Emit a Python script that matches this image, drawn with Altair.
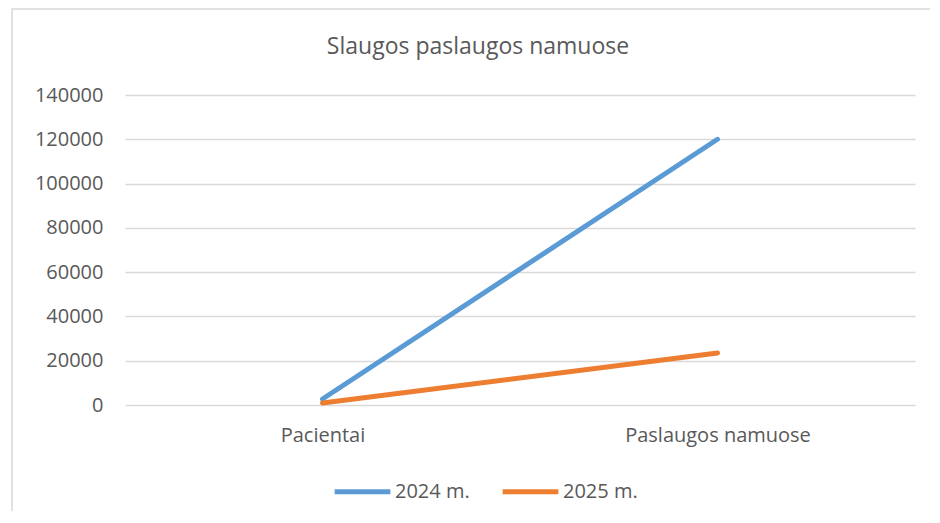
import altair as alt
import pandas as pd

categories = ["Pacientai", "Paslaugos namuose"]
series_names = ["2024 m.", "2025 m."]
values_2024 = [2700, 120000]
values_2025 = [900, 23500]
y_ticks = [0, 20000, 40000, 60000, 80000, 100000, 120000, 140000]
chart_title = "Slaugos paslaugos namuose"

rows = []
for c, v in zip(categories, values_2024):
    rows.append({"cat": c, "series": series_names[0], "value": v})
for c, v in zip(categories, values_2025):
    rows.append({"cat": c, "series": series_names[1], "value": v})
df = pd.DataFrame(rows)

FONT = "Open Sans"
GREY = "#595959"
W, H = 790, 310

one = pd.DataFrame({"t": [chart_title]})

border = alt.Chart(one).mark_rect(
    fill=None, stroke="#d9d9d9", strokeWidth=1.5, clip=False
).encode(
    x=alt.value(-113), x2=alt.value(W + 60),
    y=alt.value(-86), y2=alt.value(H + 200)
)

title = alt.Chart(one).mark_text(
    font=FONT, fontSize=23, color=GREY, align="center", baseline="middle", clip=False
).encode(
    text="t:N", x=alt.value(353), y=alt.value(-48)
)

lines = alt.Chart(df).mark_line(strokeWidth=5, strokeCap="round", strokeJoin="round").encode(
    x=alt.X("cat:N", sort=categories, title=None,
            scale=alt.Scale(type="point", padding=0.5),
            axis=alt.Axis(labelAngle=0, labelFontSize=20, labelColor=GREY,
                          labelFont=FONT, ticks=False, domain=False, grid=False,
                          labelPadding=20, labelLimit=400)),
    y=alt.Y("value:Q", title=None,
            scale=alt.Scale(domain=[0, 140000], nice=False),
            axis=alt.Axis(values=y_ticks, format="d", labelFontSize=20, labelColor=GREY,
                          labelFont=FONT, ticks=False, domain=False, gridColor="#d9d9d9",
                          gridWidth=1.5, labelPadding=22)),
    color=alt.Color("series:N", sort=series_names,
                    scale=alt.Scale(domain=series_names, range=["#5b9bd5", "#ed7d31"]),
                    legend=alt.Legend(title=None, orient="none", direction="horizontal",
                                      legendX=207, legendY=366,
                                      symbolType="stroke", symbolSize=3100,
                                      symbolStrokeWidth=5, labelFontSize=20,
                                      labelColor=GREY, labelFont=FONT,
                                      columnPadding=22, labelOffset=2))
)

chart = alt.layer(border, title, lines).properties(
    width=W, height=H,
    autosize=alt.AutoSizeParams(type="none"),
    padding={"left": 117, "top": 87, "right": 15, "bottom": 106},
).configure_view(stroke=None)

chart.save("out.html", embed_options={"renderer": "svg", "actions": False})
